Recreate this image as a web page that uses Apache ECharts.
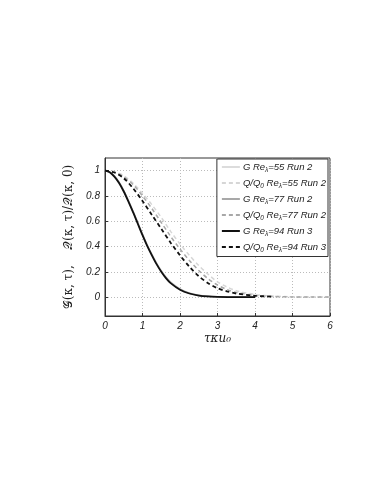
<!DOCTYPE html>
<html>
<head>
<meta charset="utf-8">
<script src="https://cdn.jsdelivr.net/npm/echarts@6/dist/echarts.min.js"></script>
<style>
  html, body { margin: 0; padding: 0; background: #fff; }
  #chart { width: 374px; height: 484px; }
</style>
</head>
<body>
<div id="chart"></div>
<script>
// tau*kappa*u0 samples
const tauG = [0, 0.125, 0.25, 0.375, 0.5, 0.625, 0.75, 0.875, 1, 1.125, 1.25, 1.375, 1.5, 1.625, 1.75, 2, 2.25, 2.5, 2.75, 3, 3.5, 4];
const tauQ = [0, 0.25, 0.5, 0.75, 1, 1.25, 1.5, 1.75, 2, 2.25, 2.5, 2.75, 3, 3.25, 3.5, 4, 4.5, 5, 5.5, 6];

// G curves (solid)
const g55 = [1, 0.99, 0.96, 0.91, 0.845, 0.765, 0.68, 0.59, 0.5, 0.415, 0.34, 0.27, 0.21, 0.16, 0.12, 0.065, 0.032, 0.015, 0.006, 0.002, 0, 0];
const g77 = [1, 0.989, 0.958, 0.907, 0.84, 0.76, 0.675, 0.585, 0.495, 0.41, 0.335, 0.265, 0.205, 0.155, 0.115, 0.062, 0.03, 0.014, 0.005, 0.002, 0, 0];
const g94 = [1, 0.988, 0.953, 0.902, 0.835, 0.755, 0.67, 0.58, 0.49, 0.405, 0.33, 0.26, 0.2, 0.15, 0.11, 0.058, 0.028, 0.012, 0.005, 0.002, 0, 0];

// Q/Q0 curves (dashed)
const q55 = [1, 0.99, 0.96, 0.9, 0.82, 0.73, 0.63, 0.52, 0.42, 0.33, 0.25, 0.18, 0.12, 0.08, 0.05, 0.02, 0.007, 0.002, 0, 0];
const q77 = [1, 0.99, 0.95, 0.89, 0.8, 0.7, 0.59, 0.48, 0.38, 0.29, 0.21, 0.145, 0.095, 0.06, 0.036, 0.012, 0.004, 0.001, 0, 0];
const q94 = [1, 0.985, 0.94, 0.86, 0.76, 0.65, 0.54, 0.43, 0.33, 0.24, 0.165, 0.11, 0.07, 0.045, 0.028, 0.01, 0.003];

const yTicks = [0, 0.2, 0.4, 0.6, 0.8, 1];

const names = [
  "G Re{s|λ}=55 Run 2",
  "Q/Q{s|0} Re{s|λ}=55 Run 2",
  "G Re{s|λ}=77 Run 2",
  "Q/Q{s|0} Re{s|λ}=77 Run 2",
  "G Re{s|λ}=94 Run 3",
  "Q/Q{s|0} Re{s|λ}=94 Run 3"
];

function pairs(xs, ys) {
  return ys.map((v, i) => [xs[i], v]);
}

function line(name, data, color, type, width) {
  return {
    name: name,
    type: "line",
    data: data,
    smooth: 0.3,
    symbol: "none",
    lineStyle: { color: color, type: type, width: width },
    itemStyle: { color: color }
  };
}

const chart = echarts.init(document.getElementById("chart"));
chart.setOption({
  animation: false,
  textStyle: { fontFamily: "Liberation Sans, Arial, sans-serif" },
  grid: {
    left: 105,
    right: 44,
    top: 158,
    bottom: 168,
    show: true,
    borderColor: "#333",
    borderWidth: 1
  },
  legend: {
    orient: "vertical",
    right: 46,
    top: 159,
    padding: [3, 2, 3, 4],
    itemWidth: 18,
    itemHeight: 8,
    itemGap: 4.5,
    backgroundColor: "#fff",
    borderColor: "#333",
    borderWidth: 1,
    borderRadius: 0,
    itemStyle: { opacity: 0 },
    data: names,
    textStyle: {
      color: "#222",
      fontSize: 9.5,
      fontStyle: "italic",
      padding: [0, 0, 0, -2],
      rich: {
        s: { fontSize: 6.5, fontStyle: "italic", verticalAlign: "bottom", padding: [6, 0, 0, 0] }
      }
    }
  },
  xAxis: {
    type: "value",
    min: 0,
    max: 6,
    interval: 1,
    name: "τκu₀",
    nameLocation: "middle",
    nameGap: 17,
    nameTextStyle: { fontFamily: "DejaVu Serif, serif", fontStyle: "italic", fontSize: 12, color: "#222" },
    axisLine: { onZero: false, lineStyle: { color: "#333" } },
    axisTick: { inside: true, length: 3, lineStyle: { color: "#333" } },
    axisLabel: { fontStyle: "italic", fontSize: 10, color: "#222", margin: 5 },
    splitLine: { show: true, lineStyle: { color: "#bbb", type: [1, 2] } }
  },
  yAxis: {
    type: "value",
    min: -0.15,
    max: 1.1,
    name: "𝒢(κ, τ),    𝒬(κ, τ)/𝒬(κ, 0)",
    nameLocation: "middle",
    nameGap: 27,
    nameTextStyle: { fontFamily: "DejaVu Serif, serif", fontSize: 12, color: "#222" },
    axisLine: { show: true, onZero: false, lineStyle: { color: "#333" } },
    axisTick: { show: true, inside: true, length: 3, customValues: yTicks, lineStyle: { color: "#333" } },
    axisLabel: { customValues: yTicks, fontStyle: "italic", fontSize: 10, color: "#222", margin: 5 },
    splitLine: { show: true, lineStyle: { color: "#bbb", type: [1, 2] } }
  },
  series: [
    line(names[0], pairs(tauG, g55), "#dcdcdc", "solid", 1.5),
    line(names[1], pairs(tauQ, q55), "#d6d6d6", [4, 3], 1.5),
    line(names[2], pairs(tauG, g77), "#a8a8a8", "solid", 1.5),
    line(names[3], pairs(tauQ, q77), "#a8a8a8", [4, 3], 1.5),
    line(names[4], pairs(tauG, g94), "#111", "solid", 1.8),
    line(names[5], pairs(tauQ, q94), "#111", [4, 3], 1.8)
  ]
});
</script>
</body>
</html>
